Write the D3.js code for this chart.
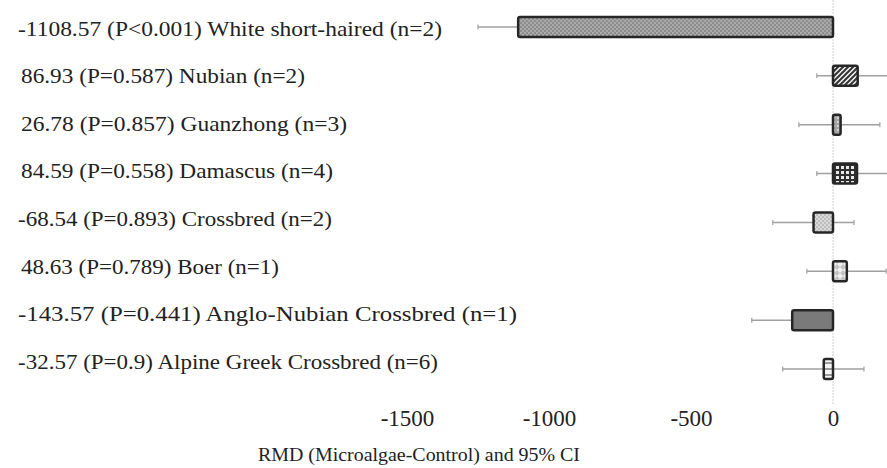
<!DOCTYPE html>
<html>
<head>
<meta charset="utf-8">
<script src="https://cdn.jsdelivr.net/npm/d3@7"></script>
<style>
  html, body { margin: 0; padding: 0; background: #fff; }
  svg { display: block; }
</style>
</head>
<body>
<svg id="chart" width="887" height="468"></svg>
<script>
// Breed subgroups of the meta-analysis (top to bottom)
const breeds = ["White short-haired", "Nubian", "Guanzhong", "Damascus", "Crossbred", "Boer", "Anglo-Nubian Crossbred", "Alpine Greek Crossbred"];
const nStudies = [2, 2, 3, 4, 2, 1, 1, 6];
const pLabels = ["P<0.001", "P=0.587", "P=0.857", "P=0.558", "P=0.893", "P=0.789", "P=0.441", "P=0.9"];
// Raw mean difference (Microalgae - Control) and its 95% CI
const rmd = [-1108.57, 86.93, 26.78, 84.59, -68.54, 48.63, -143.57, -32.57];
const ciLow = [-1250, -57, -120, -57, -212, -92, -286, -177];
const ciHigh = [-967, 231, 165, 226, 74, 187, -1, 109];
const tickValues = [-1500, -1000, -500, 0];
const axisTitle = "RMD (Microalgae-Control) and 95% CI";

// fill pattern ids per breed
const fills = ["pDots", "pStripe", "pSmall", "pGrid", "pLight", "pDiamond", "solid", "pHoriz"];
// rendered label widths
const labelWidths = [424, 284, 326, 312, 314, 258, 499, 420];

const svg = d3.select("#chart");
const defs = svg.append("defs");
const serif = "'Liberation Serif', 'Times New Roman', serif";

function pattern(id, size, bg, draw) {
  const p = defs.append("pattern").attr("id", id).attr("patternUnits", "userSpaceOnUse")
    .attr("width", size).attr("height", size);
  p.append("rect").attr("width", size).attr("height", size).attr("fill", bg);
  draw(p);
}
pattern("pDots", 4, "#8d8d8d", p => {
  p.append("rect").attr("x", 0).attr("y", 0).attr("width", 2).attr("height", 2).attr("fill", "#a9a9a9");
  p.append("rect").attr("x", 2).attr("y", 2).attr("width", 2).attr("height", 2).attr("fill", "#a9a9a9");
});
pattern("pStripe", 5, "#f4f4f4", p => {
  p.append("path").attr("d", "M-1,6 L6,-1 M-1,1 L1,-1 M4,6 L6,4").attr("stroke", "#333").attr("stroke-width", 2);
});
pattern("pSmall", 4, "#a5a5a5", p => {
  p.append("rect").attr("x", 1).attr("y", 1).attr("width", 2).attr("height", 2).attr("fill", "#d0d0d0");
});
pattern("pGrid", 5, "#2e2e2e", p => {
  p.append("rect").attr("x", 1).attr("y", 1).attr("width", 3).attr("height", 3).attr("fill", "#e8e8e8");
});
pattern("pLight", 4, "#bdbdbd", p => {
  p.append("rect").attr("x", 0).attr("y", 0).attr("width", 2).attr("height", 2).attr("fill", "#d9d9d9");
  p.append("rect").attr("x", 2).attr("y", 2).attr("width", 2).attr("height", 2).attr("fill", "#d9d9d9");
});
pattern("pDiamond", 6, "#f2f2f2", p => {
  p.append("path").attr("d", "M3,0 L6,3 L3,6 L0,3 Z").attr("fill", "#c4c4c4");
});
pattern("pHoriz", 6, "#f5f5f5", p => {
  p.append("rect").attr("x", 0).attr("y", 2).attr("width", 6).attr("height", 2).attr("fill", "#9a9a9a");
});

const x = d3.scaleLinear().domain([-1500, 0]).range([407, 833]);
const y = d3.scalePoint().domain(breeds).range([27, 369]);
const yLabel = d3.scalePoint().domain(breeds).range([28, 361]);
const barH = 20;

const rows = breeds.map((b, i) => ({
  breed: b, n: nStudies[i], p: pLabels[i], v: rmd[i], lo: ciLow[i], hi: ciHigh[i],
  fill: fills[i], w: labelWidths[i]
}));

// zero reference line
svg.append("line")
  .attr("x1", x(0)).attr("x2", x(0)).attr("y1", 0).attr("y2", 405)
  .attr("stroke", "#d0d0d0").attr("stroke-width", 1).attr("stroke-dasharray", "2,1");

// confidence intervals
const ci = svg.append("g");
rows.forEach(d => {
  const yy = y(d.breed);
  ci.append("line").attr("x1", x(d.lo)).attr("x2", x(d.hi)).attr("y1", yy).attr("y2", yy)
    .attr("stroke", "#a0a0a0").attr("stroke-width", 1.5);
  [d.lo, d.hi].forEach(e => {
    ci.append("line").attr("x1", x(e)).attr("x2", x(e)).attr("y1", yy - 2.5).attr("y2", yy + 2.5)
      .attr("stroke", "#a0a0a0").attr("stroke-width", 1.2);
  });
});

// RMD bars
svg.append("g").selectAll("rect").data(rows).join("rect")
  .attr("x", d => Math.min(x(d.v), x(0)))
  .attr("width", d => Math.abs(x(d.v) - x(0)))
  .attr("y", d => y(d.breed) - barH / 2)
  .attr("height", barH)
  .attr("rx", 2)
  .attr("fill", d => d.fill === "solid" ? "#7a7a7a" : `url(#${d.fill})`)
  .attr("stroke", "#262626").attr("stroke-width", 2.5);

// row labels
svg.append("g").selectAll("text").data(rows).join("text")
  .attr("x", d => (d.v < 0 ? 18 : 21))
  .attr("y", d => yLabel(d.breed))
  .attr("dy", "0.35em")
  .attr("font-family", serif)
  .attr("font-size", 22)
  .attr("fill", "#222")
  .attr("textLength", d => d.w)
  .attr("lengthAdjust", "spacingAndGlyphs")
  .text(d => `${d.v.toFixed(2)} (${d.p}) ${d.breed} (n=${d.n})`);

// x axis (tick labels only)
const axis = svg.append("g").attr("transform", "translate(0,410)")
  .call(d3.axisBottom(x).tickValues(tickValues).tickSize(0).tickPadding(0).tickFormat(d => String(d)));
axis.select(".domain").remove();
axis.selectAll("text")
  .attr("font-family", serif)
  .attr("font-size", 23).attr("fill", "#222").attr("dy", "0.71em");

svg.append("text")
  .attr("x", 258).attr("y", 461)
  .attr("font-family", serif)
  .attr("font-size", 19).attr("fill", "#222")
  .attr("textLength", 322).attr("lengthAdjust", "spacingAndGlyphs")
  .text(axisTitle);
</script>
</body>
</html>
